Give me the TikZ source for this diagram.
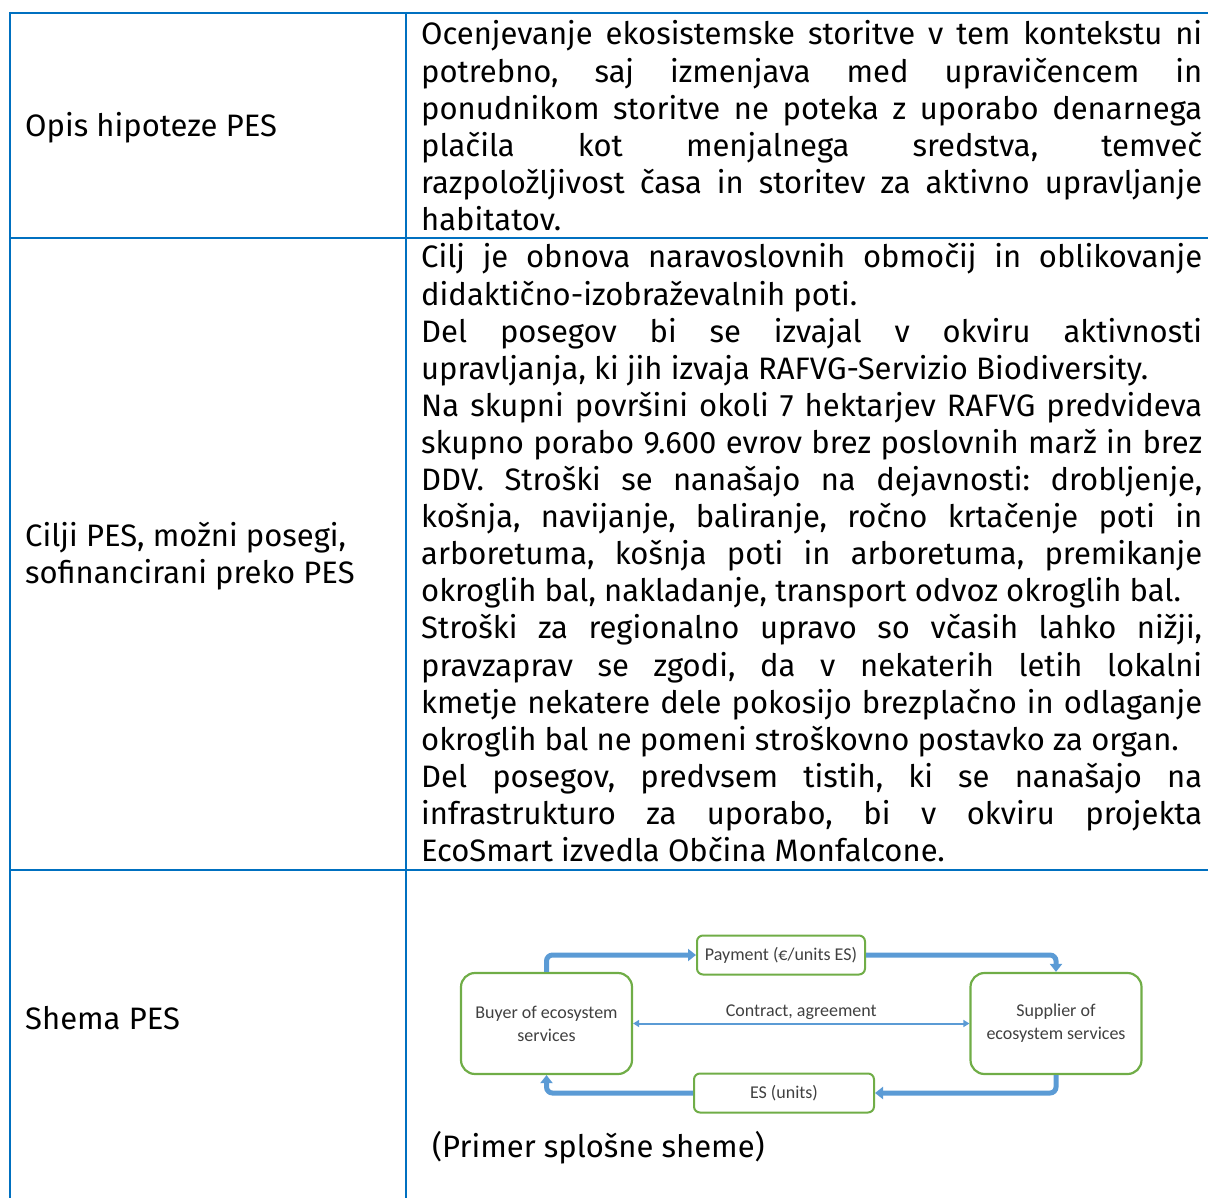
\documentclass[tikz,border=0pt]{standalone}
\usepackage{fontspec}
\setmainfont{Fira Sans}
\newfontfamily\schemefont{Carlito}
\usepackage{xcolor}
\usepackage{tikz}
\usetikzlibrary{shapes,arrows,arrows.meta,positioning,calc,fit,backgrounds}

\definecolor{tableblue}{HTML}{0070C0}
\definecolor{flowblue}{HTML}{5B9BD5}
\definecolor{boxgreen}{HTML}{70AD47}
\definecolor{schemetext}{HTML}{404040}

% justified cell text, one forced break per line of the original
\newcommand{\celltext}[1]{\parbox[t]{781pt}{\fontsize{31}{37.1}\selectfont
    \parindent=0pt\parskip=0pt\tolerance=10000\hbadness=10000\frenchspacing
    \hyphenpenalty=10000\exhyphenpenalty=10000 #1}}

\begin{document}
\begin{tikzpicture}[x=1pt,y=-1pt,
    rowhead/.style={anchor=base west, inner sep=0pt, font=\fontsize{31}{37.1}\selectfont},
    esbox/.style={draw=boxgreen, line width=2.2pt, rounded corners=14pt,
        minimum width=171pt, minimum height=101pt, align=center, text=schemetext,
        font=\schemefont\fontsize{18}{23}\selectfont},
    flowbox/.style={draw=boxgreen, line width=2pt, rounded corners=6pt,
        minimum height=39pt, text=schemetext, font=\schemefont\fontsize{18}{23}\selectfont},
    flow/.style={flowblue, line width=5pt, rounded corners=6pt,
        -{Triangle[length=8pt,width=12pt]}},
    contract/.style={flowblue, line width=2pt,
        {Triangle[length=6pt,width=7pt]}-{Triangle[length=6pt,width=7pt]}}
  ]
    \useasboundingbox (0,0) rectangle (1208,1198);

    % Table rules
    \foreach \y in {13,238,870} {
        \draw[tableblue, line width=2pt] (9,\y) -- (1208,\y);
    }
    \foreach \x in {10,406} {
        \draw[tableblue, line width=2pt] (\x,12) -- (\x,1198);
    }

    % Row headings
    \node[rowhead] (opis) at (25,137) {Opis hipoteze PES};
    \node[rowhead] (cilji) at (25,546) {Cilji PES, možni posegi,};
    \node[rowhead] (sofin) at (25,583) {sofinancirani preko PES};
    \node[rowhead] (shema) at (25,1029) {Shema PES};

    % Row texts
    \node[anchor=base west, inner sep=0pt] (opistxt) at (421,45) {\celltext{%
        Ocenjevanje ekosistemske storitve v tem kontekstu ni\linebreak
        potrebno, saj izmenjava med upravičencem in\linebreak
        ponudnikom storitve ne poteka z uporabo denarnega\linebreak
        plačila kot menjalnega sredstva, temveč\linebreak
        razpoložljivost časa in storitev za aktivno upravljanje\linebreak
        habitatov.}};
    \node[anchor=base west, inner sep=0pt] (ciljitxt) at (421,268) {\celltext{%
        Cilj je obnova naravoslovnih območij in oblikovanje\linebreak
        didaktično-izobraževalnih poti.\par
        Del posegov bi se izvajal v okviru aktivnosti\linebreak
        upravljanja, ki jih izvaja RAFVG-Servizio Biodiversity.\par
        Na skupni površini okoli 7 hektarjev RAFVG predvideva\linebreak
        skupno porabo 9.600 evrov brez poslovnih marž in brez\linebreak
        DDV. Stroški se nanašajo na dejavnosti: drobljenje,\linebreak
        košnja, navijanje, baliranje, ročno krtačenje poti in\linebreak
        arboretuma, košnja poti in arboretuma, premikanje\linebreak
        okroglih bal, nakladanje, transport odvoz okroglih bal.\par
        Stroški za regionalno upravo so včasih lahko nižji,\linebreak
        pravzaprav se zgodi, da v nekaterih letih lokalni\linebreak
        kmetje nekatere dele pokosijo brezplačno in odlaganje\linebreak
        okroglih bal ne pomeni stroškovno postavko za organ.\par
        Del posegov, predvsem tistih, ki se nanašajo na\linebreak
        infrastrukturo za uporabo, bi v okviru projekta\linebreak
        EcoSmart izvedla Občina Monfalcone.}};

    % PES scheme
    \node[esbox] (buyer) at (546.5,1023.5) {Buyer of ecosystem\\services};
    \node[esbox] (supplier) at (1056,1023.5) {Supplier of\\ecosystem services};
    \node[flowbox, minimum width=168pt] (payment) at (781,955) {Payment (€/units ES)};
    \node[flowbox, minimum width=180pt] (esunits) at (784,1093) {ES (units)};

    \draw[flow] (buyer.north) |- (payment.west);
    \draw[flow] (payment.east) -| (supplier.north);
    \draw[flow] (supplier.south) |- (esunits.east);
    \draw[flow] (esunits.west) -| (buyer.south);
    \draw[contract] (buyer.east) -- node[above, text=schemetext, inner sep=3pt,
        font=\schemefont\fontsize{18}{23}\selectfont] (agreement) {Contract, agreement} (supplier.west);

    \node[rowhead] (primer) at (432,1157) {(Primer splošne sheme)};
\end{tikzpicture}
\end{document}
